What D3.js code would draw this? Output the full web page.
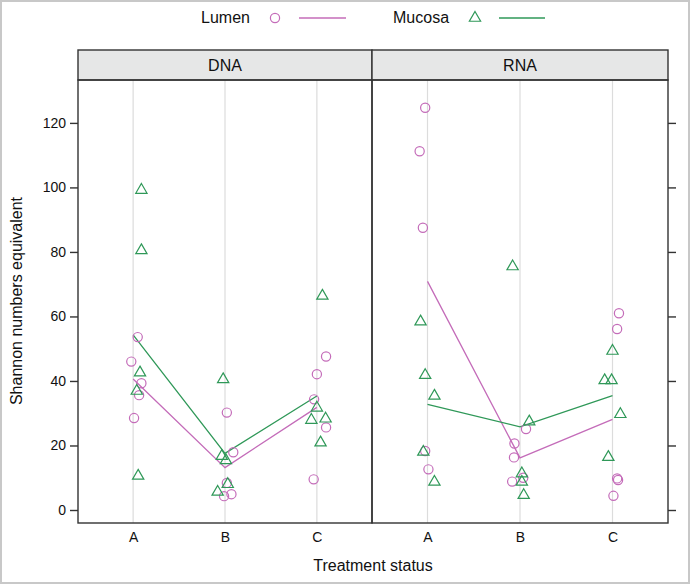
<!DOCTYPE html>
<html><head><meta charset="utf-8">
<script src="https://cdn.jsdelivr.net/npm/d3@7"></script>
<style>body{margin:0;background:#fff;}svg{display:block;font-family:"Liberation Sans",Arial,sans-serif;}</style>
</head><body><svg id="c" width="690" height="584"></svg>
<script>
const treatments = ["A","B","C"];
const panels = ["DNA","RNA"];
const groups = ["Lumen","Mucosa"];
const yTicks = [0,20,40,60,80,100,120];
// values per panel, group, treatment
const dnaLumen = {A:[53.6,46.0,39.3,35.6,28.5], B:[30.2,17.9,8.4,4.3,4.9], C:[47.6,42.1,34.3,25.6,9.5]};
const dnaMucosa = {A:[99.5,80.8,42.9,37.2,10.9], B:[40.8,17.0,15.7,8.3,5.9], C:[66.7,32.0,28.2,28.6,21.2]};
const rnaLumen = {A:[124.7,111.2,87.5,18.3,12.6], B:[25.1,20.6,16.3,8.8,10.0], C:[61.0,56.1,9.8,9.3,4.4]};
const rnaMucosa = {A:[58.7,42.1,35.7,18.3,9.0], B:[75.8,27.7,11.6,9.0,4.9], C:[49.6,40.5,40.5,30.0,16.7]};
// horizontal jitter, in category units
const dnaLumenJit = {A:[0.05,-0.02,0.09,0.065,0.01], B:[0.02,0.09,0.02,-0.01,0.07], C:[0.1,0,-0.03,0.1,-0.035]};
const dnaMucosaJit = {A:[0.09,0.09,0.075,0.04,0.055], B:[-0.02,-0.035,0.01,0.03,-0.08], C:[0.06,0,-0.06,0.095,0.04]};
const rnaLumenJit = {A:[-0.025,-0.085,-0.05,-0.025,0.01], B:[0.065,-0.06,-0.065,-0.085,0.035], C:[0.07,0.05,0.05,0.06,0.01]};
const rnaMucosaJit = {A:[-0.075,-0.025,0.075,-0.045,0.075], B:[-0.08,0.1,0.02,0.02,0.04], C:[0,-0.085,-0.01,0.085,-0.045]};

const dataSets = {
  DNA:{Lumen:[dnaLumen,dnaLumenJit], Mucosa:[dnaMucosa,dnaMucosaJit]},
  RNA:{Lumen:[rnaLumen,rnaLumenJit], Mucosa:[rnaMucosa,rnaMucosaJit]}
};
const colors = {Lumen:"#c46cb9", Mucosa:"#2f9858"};

const svg = d3.select("#c");
// outer frame
svg.append("rect").attr("x",1).attr("y",1).attr("width",688).attr("height",582)
  .attr("fill","none").attr("stroke","#c8c8c8").attr("stroke-width",2);

const panelX = {DNA:[78,372], RNA:[372,668]};
const pTop = 80, pBottom = 523, stripTop = 50;
const y = d3.scaleLinear().domain([-4.03,133.3]).range([pBottom, pTop]);
const tri = d3.symbol().type(d3.symbolTriangle).size(55);

panels.forEach((p,pi)=>{
  const [x0,x1] = panelX[p];
  const x = d3.scaleLinear().domain([0.4,3.6]).range([x0,x1]);
  const g = svg.append("g");
  // reference lines
  treatments.forEach((t,i)=>{
    g.append("line").attr("x1",x(i+1)).attr("x2",x(i+1)).attr("y1",pTop).attr("y2",pBottom)
      .attr("stroke","#dcdcdc").attr("stroke-width",1.2);
  });
  // strip
  g.append("rect").attr("x",x0).attr("y",stripTop).attr("width",x1-x0).attr("height",pTop-stripTop)
    .attr("fill","#e6e7e7").attr("stroke","#333").attr("stroke-width",1.4);
  g.append("text").attr("x",(x0+x1)/2).attr("y",(stripTop+pTop)/2+6).attr("text-anchor","middle")
    .attr("font-size",16).attr("fill","#111").text(p);
  // mean lines
  groups.forEach(gr=>{
    const [vals] = dataSets[p][gr];
    const means = treatments.map((t,i)=>[x(i+1), y(d3.mean(vals[t]))]);
    g.append("path").attr("d",d3.line()(means)).attr("fill","none")
      .attr("stroke",colors[gr]).attr("stroke-width",1.3);
  });
  // points
  groups.forEach(gr=>{
    const [vals,jit] = dataSets[p][gr];
    treatments.forEach((t,i)=>{
      vals[t].forEach((v,k)=>{
        const px = x(i+1+jit[t][k]), py = y(v);
        if(gr==="Lumen"){
          g.append("circle").attr("cx",px).attr("cy",py).attr("r",4.6)
            .attr("fill","none").attr("stroke",colors[gr]).attr("stroke-width",1.2);
        } else {
          g.append("path").attr("d",tri).attr("transform",`translate(${px},${py+1})`)
            .attr("fill","none").attr("stroke",colors[gr]).attr("stroke-width",1.2);
        }
      });
    });
  });
  // panel border
  g.append("rect").attr("x",x0).attr("y",pTop).attr("width",x1-x0).attr("height",pBottom-pTop)
    .attr("fill","none").attr("stroke","#333").attr("stroke-width",1.4);
  // bottom axis labels
  const xa = g.append("g").attr("transform",`translate(0,${pBottom})`)
    .call(d3.axisBottom(x).tickValues([1,2,3]).tickFormat((d,i)=>treatments[i]).tickSize(0).tickPadding(9));
  xa.select(".domain").remove();
  xa.selectAll("text").attr("font-size",14).attr("fill","#111").attr("font-family","Liberation Sans, Arial, sans-serif");
  // y axis
  if(pi===0){
    const ya = g.append("g").attr("transform",`translate(${x0},0)`)
      .call(d3.axisLeft(y).tickValues(yTicks).tickSize(8).tickPadding(4));
    ya.select(".domain").remove();
    ya.selectAll("line").attr("stroke","#333").attr("stroke-width",1.4);
    ya.selectAll("text").attr("font-size",14).attr("fill","#111").attr("font-family","Liberation Sans, Arial, sans-serif");
  } else {
    const ya = g.append("g").attr("transform",`translate(${x1},0)`)
      .call(d3.axisRight(y).tickValues(yTicks).tickSize(8).tickFormat(""));
    ya.select(".domain").remove();
    ya.selectAll("line").attr("stroke","#333").attr("stroke-width",1.4);
  }
});

// axis titles
svg.append("text").attr("x",373).attr("y",571).attr("text-anchor","middle").attr("font-size",16)
  .attr("fill","#111").text("Treatment status");
svg.append("text").attr("transform","translate(22,301) rotate(-90)").attr("text-anchor","middle")
  .attr("font-size",16).attr("fill","#111").text("Shannon numbers equivalent");

// legend
const leg = svg.append("g");
leg.append("text").attr("x",201).attr("y",23).attr("font-size",16).attr("fill","#111").text("Lumen");
leg.append("circle").attr("cx",275).attr("cy",18).attr("r",4.6).attr("fill","none")
  .attr("stroke",colors.Lumen).attr("stroke-width",1.2);
leg.append("line").attr("x1",299).attr("x2",346).attr("y1",18).attr("y2",18)
  .attr("stroke",colors.Lumen).attr("stroke-width",1.3);
leg.append("text").attr("x",393).attr("y",23).attr("font-size",16).attr("fill","#111").text("Mucosa");
leg.append("path").attr("d",tri).attr("transform","translate(475,18)").attr("fill","none")
  .attr("stroke",colors.Mucosa).attr("stroke-width",1.2);
leg.append("line").attr("x1",499).attr("x2",545).attr("y1",18).attr("y2",18)
  .attr("stroke",colors.Mucosa).attr("stroke-width",1.3);
</script></body></html>
